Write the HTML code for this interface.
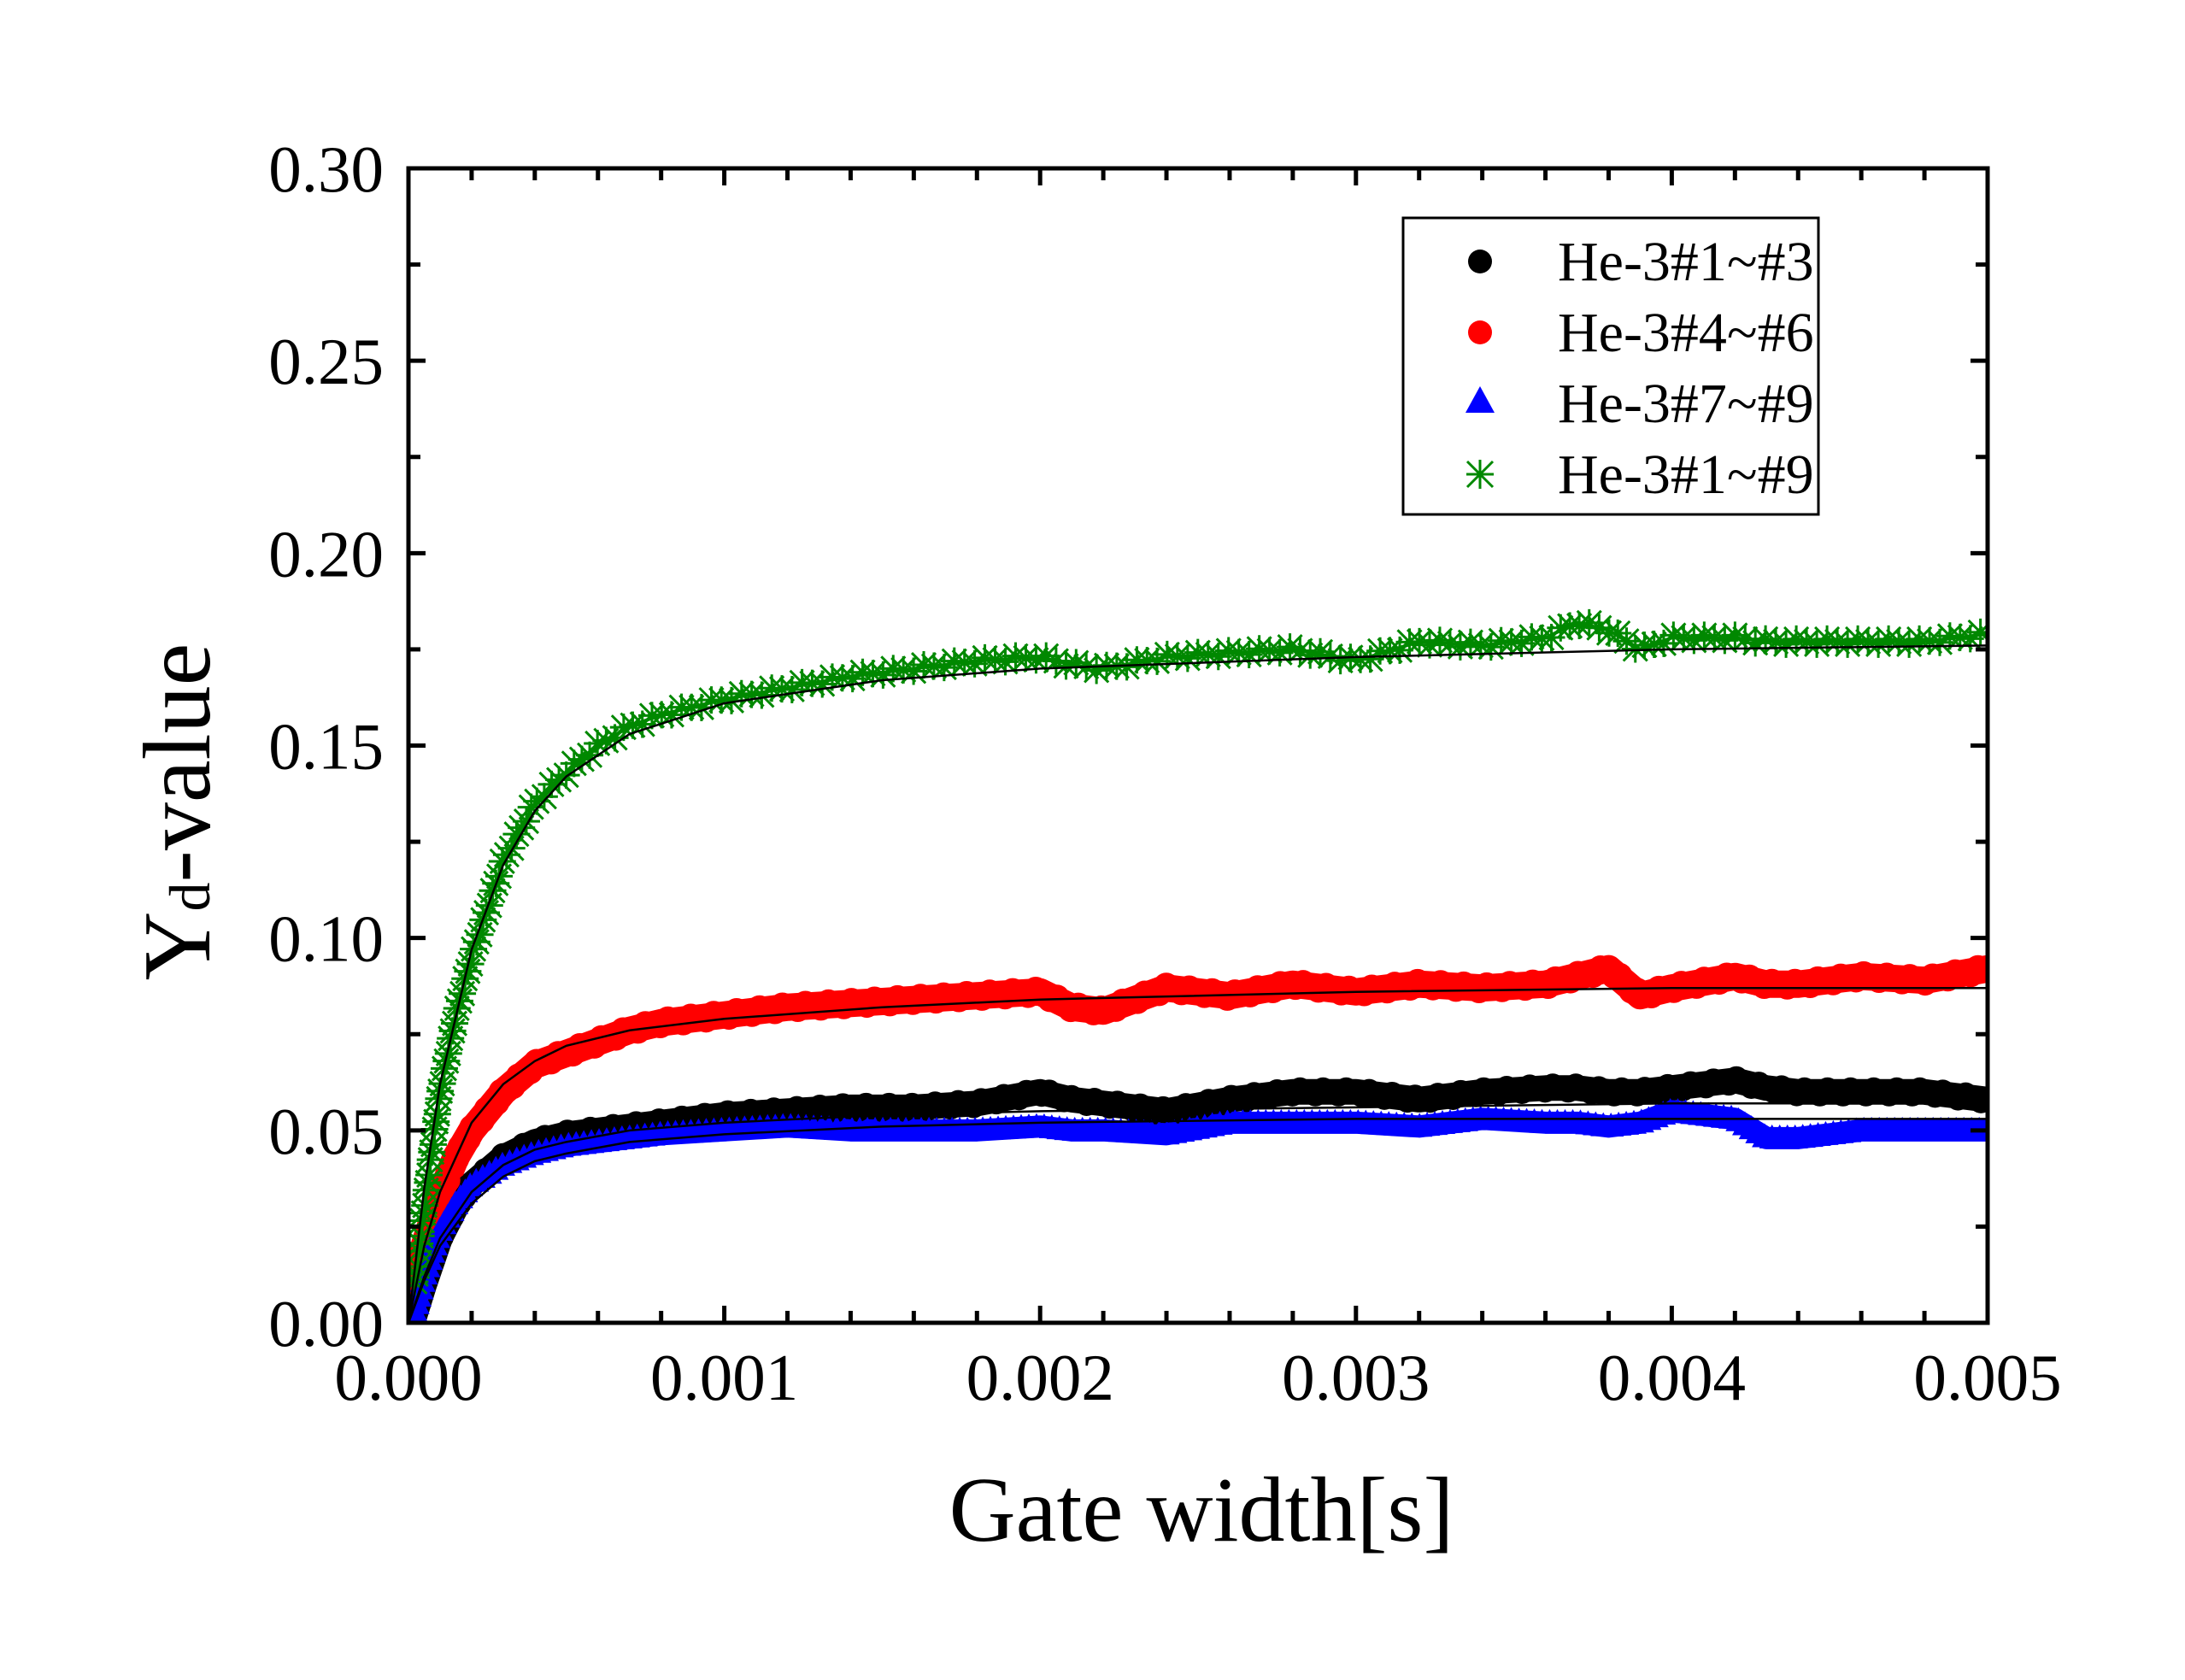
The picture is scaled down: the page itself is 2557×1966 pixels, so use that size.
<!DOCTYPE html>
<html><head><meta charset="utf-8"><style>
html,body{margin:0;padding:0;background:#fff;}
svg{display:block;font-family:"Liberation Serif",serif;}
</style></head><body>
<svg id="chart" width="2557" height="1966" viewBox="0 0 2557 1966" xmlns="http://www.w3.org/2000/svg">
<rect width="2557" height="1966" fill="#fff"/>
<g id="series"></g>
<g id="axes"></g>
<text x="1406" y="1803" font-size="108" text-anchor="middle">Gate width[s]</text>
<text transform="translate(245,950) rotate(-90)" font-size="112" text-anchor="middle">Y<tspan font-size="68" dy="0">d</tspan>-value</text>
<g>
<rect x="1642" y="255" width="486" height="347" fill="#fff" stroke="#000" stroke-width="3"/>
<circle cx="1732" cy="306" r="14" fill="#000"/>
<text x="1823" y="328" font-size="66">He-3#1~#3</text>
<circle cx="1732" cy="389" r="14" fill="#f00"/>
<text x="1823" y="411" font-size="66">He-3#4~#6</text>
<polygon points="1732,452 1749,483 1715,483" fill="#00f"/>
<text x="1823" y="494" font-size="66">He-3#7~#9</text>
<g stroke="#080" stroke-width="3">
<line x1="1717" y1="540" x2="1747" y2="570"/><line x1="1747" y1="540" x2="1717" y2="570"/><line x1="1732" y1="538" x2="1732" y2="572"/><line x1="1716" y1="555" x2="1748" y2="555"/></g>
<text x="1823" y="577" font-size="66">He-3#1~#9</text>
</g>
</svg>
<script>
const xs = [0.00002,0.00005,0.0001,0.00015,0.0002,0.0003,0.0004,0.0005,0.0006,0.0007,0.0008,0.001,0.0012,0.0014,0.0016,0.0018,0.002,0.0021,0.0022,0.0024,0.0026,0.0028,0.003,0.0032,0.0034,0.0036,0.0037,0.0038,0.0039,0.004,0.0042,0.0043,0.0044,0.0046,0.0048,0.005];
const green = [0.01,0.03,0.06,0.08,0.095,0.12,0.135,0.143,0.15,0.155,0.158,0.162,0.165,0.168,0.17,0.172,0.173,0.171,0.17,0.173,0.174,0.175,0.172,0.177,0.176,0.178,0.182,0.18,0.175,0.178,0.178,0.177,0.177,0.177,0.177,0.179];
const red = [0.005,0.02,0.033,0.043,0.05,0.06,0.067,0.07,0.073,0.076,0.078,0.08,0.082,0.083,0.084,0.085,0.086,0.082,0.081,0.087,0.085,0.088,0.086,0.088,0.087,0.088,0.09,0.092,0.085,0.087,0.09,0.088,0.088,0.09,0.089,0.092];
const black = [0.002,0.01,0.022,0.03,0.036,0.043,0.047,0.049,0.05,0.051,0.052,0.054,0.055,0.056,0.056,0.057,0.06,0.058,0.057,0.055,0.058,0.06,0.06,0.058,0.06,0.061,0.061,0.06,0.06,0.061,0.063,0.061,0.06,0.06,0.06,0.058];
const blue = [0.003,0.012,0.024,0.031,0.036,0.041,0.044,0.046,0.047,0.048,0.049,0.05,0.051,0.05,0.05,0.05,0.051,0.05,0.05,0.049,0.052,0.052,0.052,0.051,0.053,0.052,0.052,0.051,0.052,0.055,0.053,0.048,0.048,0.05,0.05,0.05];
const fitX = [0,0.00005,0.0001,0.0002,0.0003,0.0004,0.0005,0.0007,0.001,0.0015,0.002,0.003,0.004,0.005];
const fitGreen = [0,0.035,0.062,0.097,0.119,0.133,0.142,0.153,0.161,0.167,0.170,0.173,0.175,0.176];
const fitRed = [0,0.02,0.034,0.052,0.062,0.068,0.072,0.076,0.079,0.082,0.084,0.086,0.087,0.087];
const fitBlack = [0,0.012,0.022,0.034,0.041,0.045,0.047,0.05,0.052,0.054,0.055,0.056,0.057,0.057];
const fitBlue = [0,0.011,0.02,0.031,0.038,0.042,0.044,0.047,0.049,0.051,0.052,0.053,0.053,0.053];
const xTicks = [0,0.001,0.002,0.003,0.004,0.005];
const xTickLabels = ["0.000","0.001","0.002","0.003","0.004","0.005"];
const yTicks = [0,0.05,0.1,0.15,0.2,0.25,0.3];
const yTickLabels = ["0.00","0.05","0.10","0.15","0.20","0.25","0.30"];

const L=478,R=2326,T=197,B=1548;
const sx=v=>L+v/0.005*(R-L);
const sy=v=>B-v/0.3*(B-T);
const NS="http://www.w3.org/2000/svg";
const sg=document.getElementById('series'), ag=document.getElementById('axes');
function mk(tag,attrs,parent){const e=document.createElementNS(NS,tag);for(const k in attrs)e.setAttribute(k,attrs[k]);parent.appendChild(e);return e;}
function pts(X,Y){return X.map((x,i)=>sx(x)+','+sy(Y[i])).join(' ');}

const defs=mk('defs',{},sg);
const cp=mk('clipPath',{id:'clip'},defs);
mk('rect',{x:L,y:T,width:R-L,height:B-T},cp);
const g=mk('g',{'clip-path':'url(#clip)'},sg);

function band(Y,color,w,name){
  const p=mk('polyline',{points:pts(xs,Y),fill:'none',stroke:color,'stroke-width':w,'stroke-linejoin':'round','stroke-linecap':'round'},g);
  
  
  return p;
}
function along(path,step,fn){
  const len=path.getTotalLength();
  for(let d=0;d<=len;d+=step){const q=path.getPointAtLength(d);fn(q.x,q.y,d);}
}
const pb=band(black,'#000',30,'series-he3-1-3');
const pr=band(red,'#f00',32,'series-he3-4-6');
const pbl=band(blue,'#00f',26,'series-he3-7-9');

along(pb,9,(X,Y,d)=>{
  const c=mk('circle',{cx:X,cy:Y+(Math.floor(d/9)%3-1)*3,r:14,fill:'#000'},g);
  
  
});
along(pr,9,(X,Y,d)=>{
  const c=mk('circle',{cx:X,cy:Y+(Math.floor(d/9)%3-1)*3,r:15,fill:'#f00'},g);
  
  
});
along(pbl,9,(X,Y)=>{
  const t=mk('polygon',{points:`${X},${Y-16} ${X+15},${Y+12} ${X-15},${Y+12}`,fill:'#00f'},g);
  
  
});
const gl=mk('polyline',{points:pts(xs,green),fill:'none',stroke:'#080','stroke-width':4,'stroke-linejoin':'round'},g);


along(gl,12,(X,Y,d)=>{
  const s=14;Y+= (Math.floor(d/12)%3-1)*3;
  const st=mk('path',{d:`M${X-s},${Y-s}L${X+s},${Y+s}M${X+s},${Y-s}L${X-s},${Y+s}M${X},${Y-s-2}L${X},${Y+s+2}M${X-s-2},${Y}L${X+s+2},${Y}`,stroke:'#080','stroke-width':3,fill:'none'},g);
  
  
});
[[fitGreen,'fit-he3-1-9'],[fitRed,'fit-he3-4-6'],[fitBlack,'fit-he3-1-3'],[fitBlue,'fit-he3-7-9']].forEach(([Y,n])=>{
  const p=mk('polyline',{points:pts(fitX,Y),fill:'none',stroke:'#000','stroke-width':2.5},g);
  
  
});

const fr=mk('rect',{x:L,y:T,width:R-L,height:B-T,fill:'none',stroke:'#000','stroke-width':5},ag);


for(let k=0;k<=25;k++){
  const v=k*0.0002,X=sx(v),len=(k%5===0)?20:14;
  mk('line',{x1:X,y1:B,x2:X,y2:B-len,stroke:'#000','stroke-width':5},ag);
  mk('line',{x1:X,y1:T,x2:X,y2:T+len,stroke:'#000','stroke-width':5},ag);
}
xTicks.forEach((v,i)=>{
  const t=mk('text',{x:sx(v),y:1638,'font-size':77,'text-anchor':'middle'},ag);
  t.textContent=xTickLabels[i];
  
  
});
for(let k=0;k<=12;k++){
  const v=k*0.025,Y=sy(v),len=(k%2===0)?20:14;
  mk('line',{x1:L,y1:Y,x2:L+len,y2:Y,stroke:'#000','stroke-width':5},ag);
  mk('line',{x1:R,y1:Y,x2:R-len,y2:Y,stroke:'#000','stroke-width':5},ag);
}
yTicks.forEach((v,i)=>{
  const t=mk('text',{x:449,y:sy(v)+27,'font-size':77,'text-anchor':'end'},ag);
  t.textContent=yTickLabels[i];
  
  
});
</script>
</body></html>
